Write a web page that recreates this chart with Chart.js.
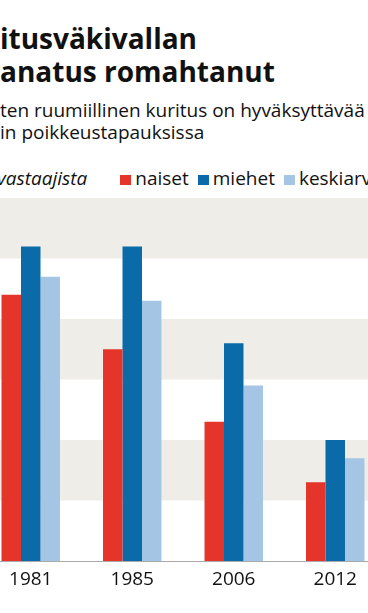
<!DOCTYPE html>
<html>
<head>
<meta charset="utf-8">
<script src="https://cdn.jsdelivr.net/npm/chart.js@4.4.1/dist/chart.umd.min.js"></script>
<style>
  html, body { margin: 0; padding: 0; background: #fff; }
  body { width: 368px; height: 613px; position: relative; overflow: hidden; font-family: "Open Sans", sans-serif; color: #111; }
  .title { position: absolute; left: 0; top: 22px; font-weight: 700; font-size: 28px; line-height: 33px; white-space: nowrap; }
  .subtitle { position: absolute; left: 0; top: 99px; font-size: 19px; line-height: 22px; white-space: nowrap; }
  .legend { position: absolute; left: -3px; top: 165px; height: 26px; font-size: 19px; white-space: nowrap; display: flex; align-items: center; }
  .legend .unit { font-style: italic; margin-right: 33px; }
  .legend .item { display: flex; align-items: center; margin-right: 9px; }
  .legend .box { width: 11px; height: 10px; margin-right: 4px; margin-top: 3px; }
  .chart-wrap { position: absolute; left: -20px; top: 0; width: 406px; height: 613px; }
</style>
</head>
<body>
<div class="title">itusväkivallan<br>anatus romahtanut</div>
<div class="subtitle">ten ruumiillinen kuritus on hyväksyttävää<br>in poikkeustapauksissa</div>
<div class="legend" id="legend"><span class="unit">vastaajista</span></div>
<div class="chart-wrap"><canvas id="chart" width="406" height="613"></canvas></div>
<script>
  /* =========================
     DATA
  ========================= */
  const years = ["1981", "1985", "2006", "2012"];
  const naiset = [44, 35, 23, 13];
  const miehet = [52, 52, 36, 20];
  const keskiarvo = [47, 43, 29, 17];

  const SERIES = [
    { label: "naiset", data: naiset, color: "#e5352a" },
    { label: "miehet", data: miehet, color: "#0a6ba8" },
    { label: "keskiarvo", data: keskiarvo, color: "#a4c5e4" }
  ];

  /* =========================
     LEGEND (html)
  ========================= */
  const legend = document.getElementById("legend");
  SERIES.forEach(s => {
    const item = document.createElement("span");
    item.className = "item";
    item.innerHTML = `<span class="box" style="background:${s.color}"></span>${s.label}`;
    legend.appendChild(item);
  });

  /* =========================
     BANDS PLUGIN
  ========================= */
  const bands = {
    id: "bands",
    beforeDatasetsDraw(chart) {
      const { ctx, chartArea, scales } = chart;
      const y = scales.y;
      ctx.save();
      ctx.fillStyle = "#efede7";
      for (let v = 10; v < 60; v += 20) {
        const top = y.getPixelForValue(v + 10);
        const bottom = y.getPixelForValue(v);
        ctx.fillRect(chartArea.left, top, chartArea.right - chartArea.left, bottom - top);
      }
      ctx.restore();
    }
  };

  const ctx = document.getElementById("chart").getContext("2d");
  new Chart(ctx, {
    type: "bar",
    data: {
      labels: years,
      datasets: SERIES.map(s => ({
        label: s.label,
        data: s.data,
        backgroundColor: s.color,
        borderWidth: 0,
        barPercentage: 1,
        categoryPercentage: 0.576
      }))
    },
    options: {
      responsive: false,
      animation: false,
      layout: { padding: { top: 198, bottom: 24, left: 0, right: 0 } },
      plugins: {
        legend: { display: false },
        tooltip: { enabled: false }
      },
      scales: {
        x: {
          grid: { display: false, drawTicks: false },
          border: { display: true, color: "#a9a9a9", width: 1 },
          ticks: {
            color: "#111",
            padding: 7,
            font: { family: "Open Sans", size: 19 }
          },
          afterFit(scale) { scale.height = 28; }
        },
        y: {
          display: false,
          min: 0,
          max: 60
        }
      }
    },
    plugins: [bands]
  });
</script>
</body>
</html>
